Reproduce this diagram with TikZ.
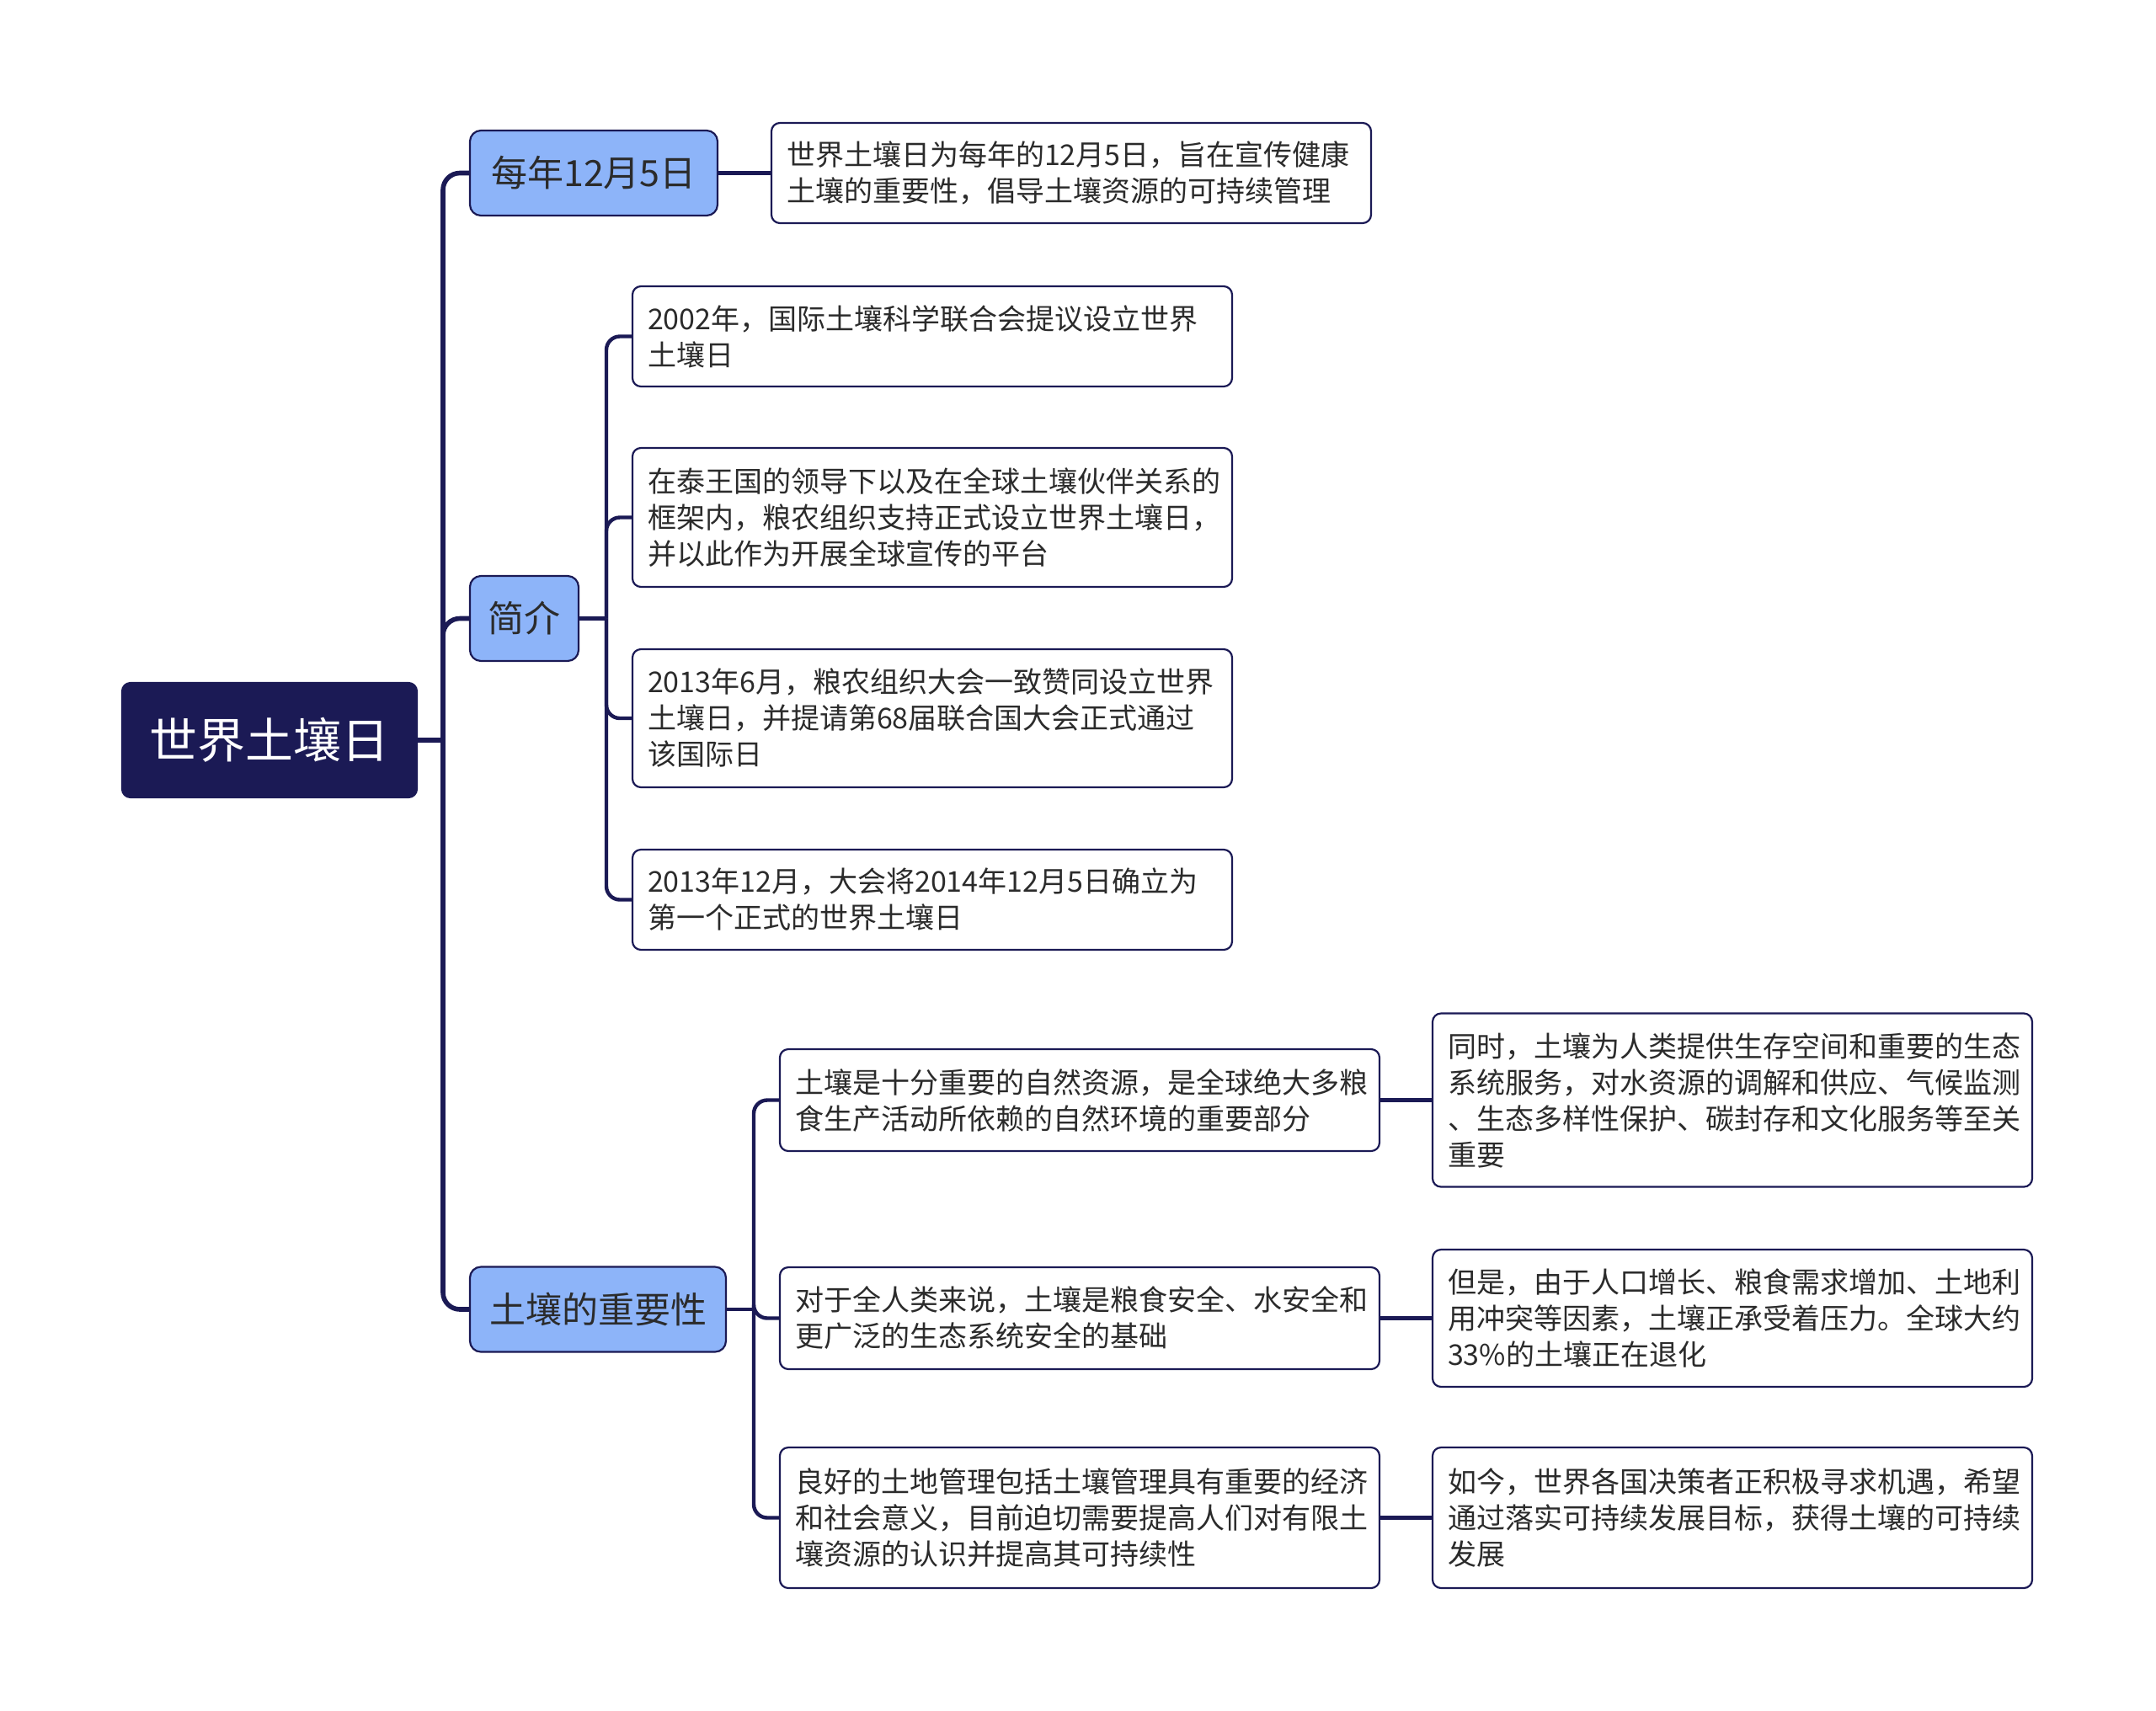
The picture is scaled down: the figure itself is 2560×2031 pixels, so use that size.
\documentclass[tikz,border=0pt]{standalone}
\usepackage{fontspec}
\setmainfont{Noto Sans CJK SC}
\definecolor{navy}{HTML}{1B1A55}
\definecolor{lblue}{HTML}{8DB4F9}
\definecolor{txt}{HTML}{2B2B2B}
\tikzset{
  box/.style={draw=navy, line width=1.1pt, rounded corners=5pt},
  rootbox/.style={box, fill=navy, text=white, font=\fontsize{28.5}{34}\selectfont, minimum width=175pt, minimum height=68pt, inner sep=0pt},
  topic/.style={box, rounded corners=6.5pt, fill=lblue, text=txt, font=\fontsize{21.5}{26}\selectfont, minimum height=50.5pt, inner sep=0pt},
  leaf/.style={box, fill=white, text=txt, font=\fontsize{17}{21.5}\selectfont, text width=338pt, inner xsep=9pt, inner ysep=0pt, align=left},
  link/.style={draw=navy, line width=2.2pt, rounded corners=8pt},
  mainlink/.style={draw=navy, line width=2.8pt, rounded corners=10pt},
}
\begin{document}
\begin{tikzpicture}[x=0.5pt,y=-0.5pt]
\useasboundingbox[fill=white] (0,0) rectangle (2560,2031);

% root and topics
\node[rootbox] (root) at (320,879) {世界土壤日};
\node[topic, minimum width=147pt] (t1) at (705,205.5) {每年12月5日};
\node[topic, minimum width=64.5pt] (t2) at (622.5,734.5) {简介};
\node[topic, minimum width=152pt] (t3) at (710,1555) {土壤的重要性};

% leaves
\node[leaf, minimum height=59.5pt] (a) at (1272,205.5) {世界土壤日为每年的12月5日，旨在宣传健康\\土壤的重要性，倡导土壤资源的可持续管理};

\node[leaf, minimum height=59.5pt] (b1) at (1107,399.5) {2002年，国际土壤科学联合会提议设立世界\\土壤日};
\node[leaf, minimum height=82.5pt] (b2) at (1107,614.5) {在泰王国的领导下以及在全球土壤伙伴关系的\\框架内，粮农组织支持正式设立世界土壤日，\\并以此作为开展全球宣传的平台};
\node[leaf, minimum height=82pt] (b3) at (1107,853) {2013年6月，粮农组织大会一致赞同设立世界\\土壤日，并提请第68届联合国大会正式通过\\该国际日};
\node[leaf, minimum height=59.5pt] (b4) at (1107,1068.5) {2013年12月，大会将2014年12月5日确立为\\第一个正式的世界土壤日};

\node[leaf, minimum height=60.5pt] (c1) at (1282,1306.5) {土壤是十分重要的自然资源，是全球绝大多粮\\食生产活动所依赖的自然环境的重要部分};
\node[leaf, minimum height=60.5pt] (c2) at (1282,1565.5) {对于全人类来说，土壤是粮食安全、水安全和\\更广泛的生态系统安全的基础};
\node[leaf, minimum height=83.5pt] (c3) at (1282,1802.5) {良好的土地管理包括土壤管理具有重要的经济\\和社会意义，目前迫切需要提高人们对有限土\\壤资源的认识并提高其可持续性};

\node[leaf, minimum height=103pt] (d1) at (2057,1306.5) {同时，土壤为人类提供生存空间和重要的生态\\系统服务，对水资源的调解和供应、气候监测\\、生态多样性保护、碳封存和文化服务等至关\\重要};
\node[leaf, minimum height=81.5pt] (d2) at (2057,1565.5) {但是，由于人口增长、粮食需求增加、土地利\\用冲突等因素，土壤正承受着压力。全球大约\\33\%的土壤正在退化};
\node[leaf, minimum height=83.5pt] (d3) at (2057,1802.5) {如今，世界各国决策者正积极寻求机遇，希望\\通过落实可持续发展目标，获得土壤的可持续\\发展};

% junction points
\coordinate (j0) at (526,879);
\coordinate (j2) at (720,734.5);
\coordinate (j3) at (895,1555);

% connectors
\draw[mainlink] (root.east) -- (j0);
\draw[mainlink] (j0) |- (t1.west);
\draw[mainlink] (j0) |- (t2.west);
\draw[mainlink] (j0) |- (t3.west);

\draw[link] (t1.east) -- (a.west);

\draw[link] (t2.east) -- (j2);
\draw[link] (j2) |- (b1.west);
\draw[link] (j2) |- (b2.west);
\draw[link] (j2) |- (b3.west);
\draw[link] (j2) |- (b4.west);

\draw[link] (t3.east) -- (j3);
\draw[link] (j3) |- (c1.west);
\draw[link] (j3) |- (c2.west);
\draw[link] (j3) |- (c3.west);

\draw[link] (c1.east) -- (d1.west);
\draw[link] (c2.east) -- (d2.west);
\draw[link] (c3.east) -- (d3.west);
\end{tikzpicture}
\end{document}
